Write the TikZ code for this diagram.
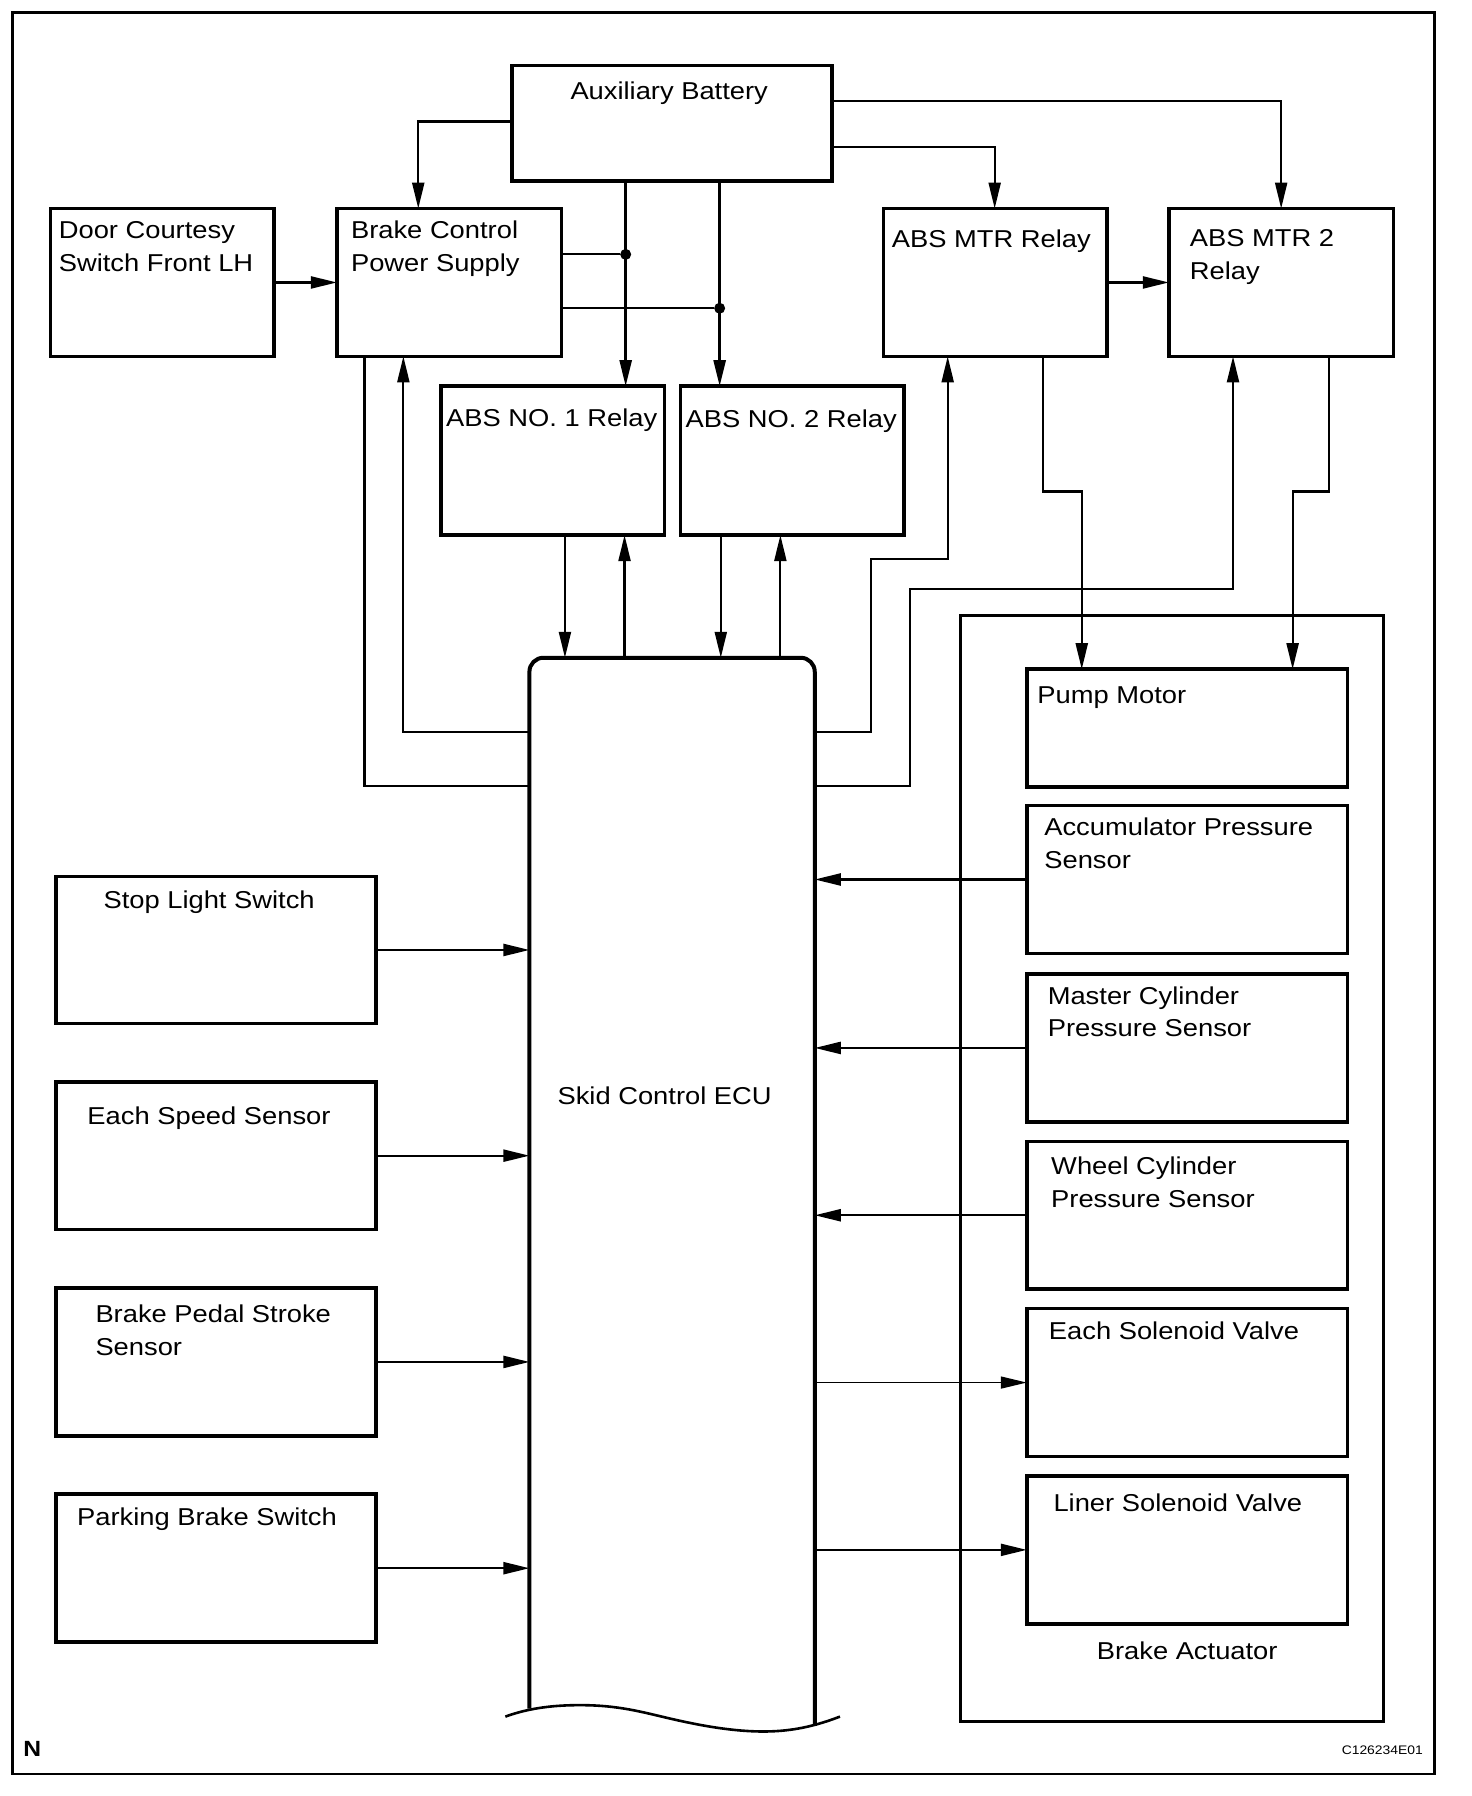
\documentclass[tikz,border=0pt]{standalone}
\usepackage{fontspec}
\setmainfont{Liberation Sans}[FakeStretch=1.12]
\usetikzlibrary{arrows.meta,fit,calc}
\begin{document}
\begin{tikzpicture}[x=0.573pt,y=-0.573pt,
  box/.style={draw, line width=1.8pt, inner sep=0pt, outer sep=0pt},
  lbl/.style={inner sep=0pt, font=\fontsize{12.2}{16.4}\selectfont, align=left},
  conn/.style={line width=1.1pt},
  arr/.style={conn, -{Triangle[length=13pt,width=6pt]}},
  dot/.style={circle, fill, inner sep=0pt, minimum size=5.5pt}]
\useasboundingbox (0,0) rectangle (1284.5,1567.3);
\draw[line width=1.3pt] (11,11) rectangle (1252,1548);

% boxes
\node[box, fit={(447,57) (726,158)}] (batt) {};
\node[box, fit={(44,182) (239,311)}] (door) {};
\node[box, fit={(294,182) (490,311)}] (bcps) {};
\node[box, fit={(771,182) (966,311)}] (mtr) {};
\node[box, fit={(1020,182) (1216,311)}] (mtr2) {};
\node[box, fit={(385,337) (580,467)}] (abs1) {};
\node[box, fit={(594,337) (789,467)}] (abs2) {};
\node[box, line width=1.4pt, fit={(838,537) (1207,1502)}] (act) {};
\node[box, fit={(896,584) (1176,687)}] (pump) {};
\node[box, fit={(896,703) (1176,832)}] (accum) {};
\node[box, fit={(896,850) (1176,979)}] (master) {};
\node[box, fit={(896,996) (1176,1125)}] (wheel) {};
\node[box, fit={(896,1142) (1176,1271)}] (esv) {};
\node[box, fit={(896,1288) (1176,1417)}] (lsv) {};
\node[box, fit={(49,765) (328,893)}] (stop) {};
\node[box, fit={(49,944) (328,1073)}] (speed) {};
\node[box, fit={(49,1124) (328,1253)}] (pedal) {};
\node[box, fit={(49,1304) (328,1433)}] (park) {};
\node[inner sep=0pt, outer sep=0pt, fit={(462,574) (711,1498)}] (ecu) {};

% ECU outline
\draw[line width=2pt, rounded corners=7pt] ($(ecu.south west)+(0,-7)$) -- (ecu.north west) -- (ecu.north east) -- ($(ecu.south east)+(0,8)$);
\draw[line width=1.3pt] (441,1498) .. controls (463,1490) and (485,1488) .. (506,1488)
  .. controls (540,1488) and (560,1494) .. (586,1500)
  .. controls (612,1506) and (640,1511) .. (666,1511)
  .. controls (692,1511) and (712,1506) .. (733,1498);

% labels
\node[lbl, anchor=base] (batt-t) at (584,87) {Auxiliary Battery};
\node[lbl, anchor=north west] (door-t) at (51,190.5) {\rule{0pt}{10pt}Door Courtesy\\Switch Front LH};
\node[lbl, anchor=north west] (bcps-t) at (306,190.5) {\rule{0pt}{10pt}Brake Control\\Power Supply};
\node[lbl, anchor=base west] (mtr-t) at (778,216) {ABS MTR Relay};
\node[lbl, anchor=north west] (mtr2-t) at (1038,197.5) {\rule{0pt}{10pt}ABS MTR 2\\Relay};
\node[lbl, anchor=base west] (abs1-t) at (389,372) {ABS NO. 1 Relay};
\node[lbl, anchor=base west] (abs2-t) at (598,373) {ABS NO. 2 Relay};
\node[lbl, anchor=base west] (pump-t) at (905,614) {Pump Motor};
\node[lbl, anchor=north west] (accum-t) at (911,711.5) {\rule{0pt}{10pt}Accumulator Pressure\\Sensor};
\node[lbl, anchor=north west] (master-t) at (914,858.5) {\rule{0pt}{10pt}Master Cylinder\\Pressure Sensor};
\node[lbl, anchor=north west] (wheel-t) at (917,1007.5) {\rule{0pt}{10pt}Wheel Cylinder\\Pressure Sensor};
\node[lbl, anchor=base west] (esv-t) at (915,1169) {Each Solenoid Valve};
\node[lbl, anchor=base west] (lsv-t) at (919,1319) {Liner Solenoid Valve};
\node[lbl, anchor=base] (act-t) at (1036,1448) {Brake Actuator};
\node[lbl, anchor=base] (ecu-t) at (580,964) {Skid Control ECU};
\node[lbl, anchor=base west] (stop-t) at (90,793) {Stop Light Switch};
\node[lbl, anchor=base west] (speed-t) at (76,981) {Each Speed Sensor};
\node[lbl, anchor=north west] (pedal-t) at (83,1136.5) {\rule{0pt}{10pt}Brake Pedal Stroke\\Sensor};
\node[lbl, anchor=base west] (park-t) at (67,1331) {Parking Brake Switch};
\node[inner sep=0pt, anchor=base west, font=\bfseries\fontsize{11}{13}\selectfont] (n-t) at (20,1533) {N};
\node[inner sep=0pt, anchor=base east, font=\fontsize{6.2}{7}\selectfont] (code-t) at (1242,1531) {C126234E01};

% connectors from battery
\draw[arr] ($(batt.north west)+(0,49)$) -| ($(bcps.north west)+(71,0)$);
\draw[arr] ($(batt.north east)+(0,31)$) -| ($(mtr2.north west)+(98,0)$);
\draw[arr] ($(batt.north east)+(0,71)$) -| ($(mtr.north west)+(97,0)$);
\draw[arr, line width=1.3pt] ($(batt.south west)+(99,0)$) coordinate (bv1) -- ($(abs1.north west)+(161,0)$);
\draw[arr, line width=1.3pt] ($(batt.south west)+(181,0)$) coordinate (bv2) -- ($(abs2.north west)+(34,0)$);

% brake control power supply to relay feeds
\path ($(bcps.north east)+(0,40)$) coordinate (bc1);
\path ($(bcps.north east)+(0,87)$) coordinate (bc2);
\node[dot] (j1) at (bc1 -| bv1) {};
\node[dot] (j2) at (bc2 -| bv2) {};
\draw[conn] (bc1) -- (j1);
\draw[conn] (bc2) -- (j2);

% side arrows top
\draw[arr] (door.east) -- (bcps.west);
\draw[arr] (mtr.east) -- (mtr2.west);

% relays to ECU
\draw[arr] ($(abs1.south west)+(108,0)$) -- ($(ecu.north west)+(31,0)$);
\draw[arr] ($(ecu.north west)+(83,0)$) -- ($(abs1.south west)+(160,0)$);
\draw[arr] ($(abs2.south west)+(35,0)$) -- ($(ecu.north west)+(167,0)$);
\draw[arr] ($(ecu.north west)+(219,0)$) -- ($(abs2.south west)+(87,0)$);

% BCPS <-> ECU
\draw[conn] ($(bcps.south west)+(24,0)$) |- ($(ecu.north west)+(0,112)$);
\draw[arr] ($(ecu.north west)+(0,65)$) -| ($(bcps.south west)+(58,0)$);

% ECU -> MTR relays
\draw[arr] ($(ecu.north east)+(0,65)$) -| ++(49,-151) -| ($(mtr.south west)+(56,0)$);
\draw[arr] ($(ecu.north east)+(0,112)$) -| ++(83,-172) -| ($(mtr2.south west)+(56,0)$);

% MTR relays -> pump motor
\draw[arr] ($(mtr.south west)+(139,0)$) -- ++(0,118) -| ($(pump.north west)+(48,0)$);
\draw[arr] ($(mtr2.south west)+(140,0)$) -- ++(0,118) -| ($(pump.north west)+(232,0)$);

% left inputs
\draw[arr] (stop.east) -- (stop.east -| ecu.west);
\draw[arr] (speed.east) -- (speed.east -| ecu.west);
\draw[arr] (pedal.east) -- (pedal.east -| ecu.west);
\draw[arr] (park.east) -- (park.east -| ecu.west);

% actuator sensors -> ECU
\draw[arr] (accum.west) -- (accum.west -| ecu.east);
\draw[arr] (master.west) -- (master.west -| ecu.east);
\draw[arr] (wheel.west) -- (wheel.west -| ecu.east);

% ECU -> valves
\draw[arr, line width=0.8pt] (esv.west -| ecu.east) -- (esv.west);
\draw[arr] (lsv.west -| ecu.east) -- (lsv.west);
\end{tikzpicture}
\end{document}
